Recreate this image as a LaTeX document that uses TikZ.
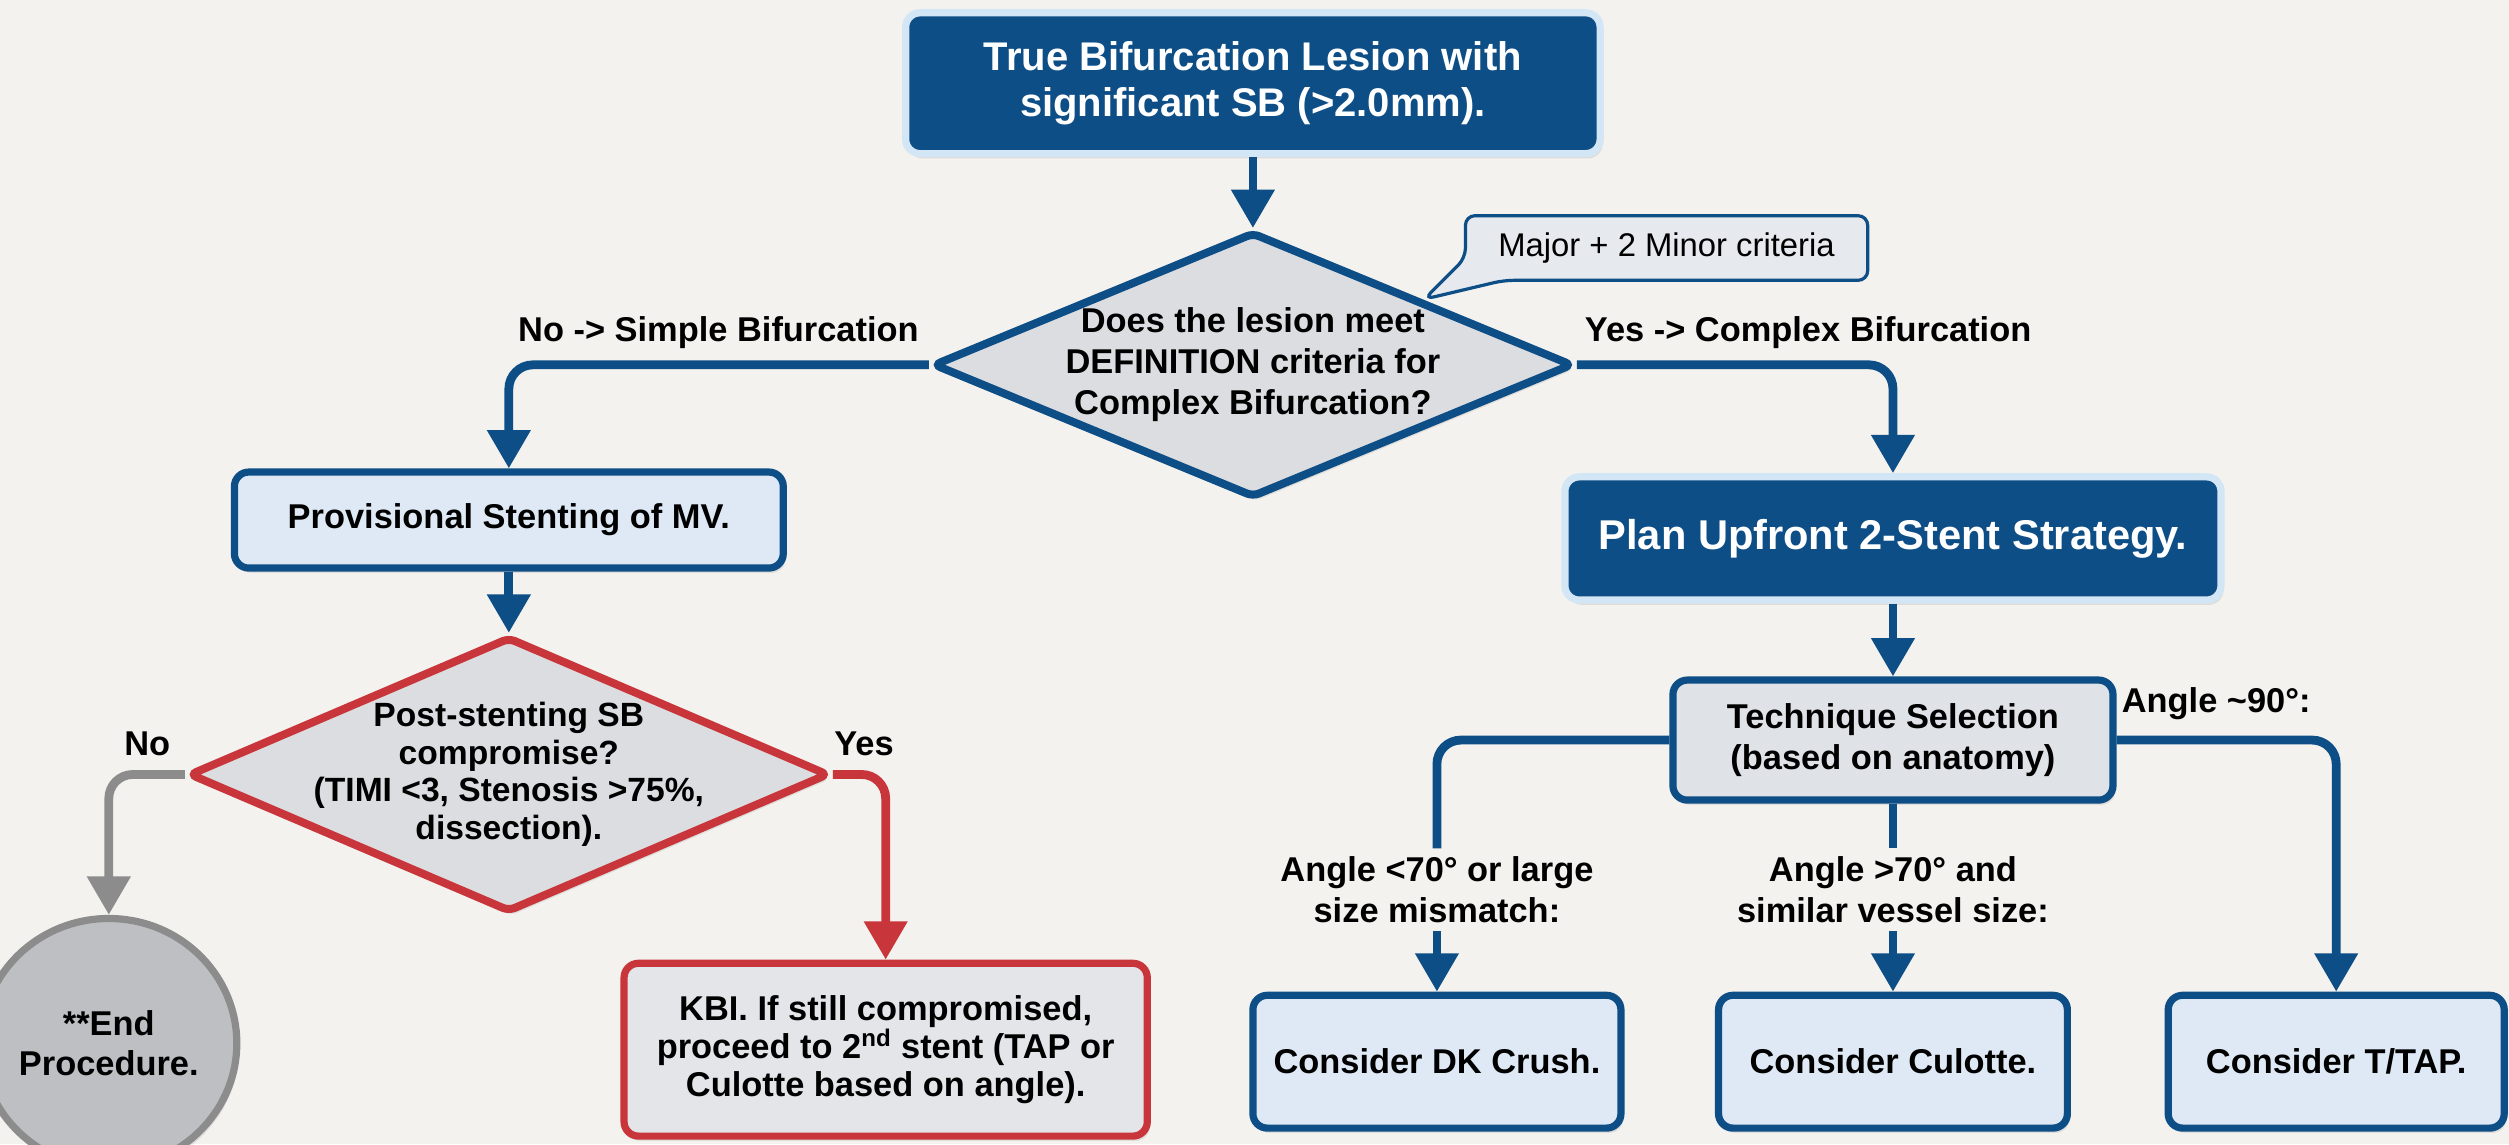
\documentclass[tikz,border=0pt]{standalone}
\usepackage{fontspec}
\setmainfont{Liberation Sans}
\usetikzlibrary{arrows.meta,shapes.geometric,shadows}
\definecolor{bg}{HTML}{F3F2EE}
\definecolor{dblue}{HTML}{0E4E86}
\definecolor{glow}{HTML}{D3E6F6}
\definecolor{lblue}{HTML}{DEE9F5}
\definecolor{dgray}{HTML}{DCDDE0}
\definecolor{tgray}{HTML}{DFE2E7}
\definecolor{kfill}{HTML}{E3E5E9}
\definecolor{cfill}{HTML}{E6E9EE}
\definecolor{rred}{HTML}{C8363B}
\definecolor{ggray}{HTML}{8C8C8C}
\definecolor{egray}{HTML}{BDBFC2}
\pgfdeclarelayer{bgl}
\pgfsetlayers{bgl,main}
\begin{document}
\begin{tikzpicture}[x=1pt,y=-1pt,
  every node/.style={font=\bfseries\fontsize{21.5}{25.5}\selectfont},
  shadowed/.style={drop shadow={shadow xshift=1.5pt,shadow yshift=-3pt,opacity=0.18}},
  darkbox/.style={rectangle, rounded corners=9pt, fill=dblue, draw=glow, line width=4.5pt, text=white, align=center, inner sep=0pt, shadowed},
  lightbox/.style={rectangle, rounded corners=9pt, fill=lblue, draw=dblue, line width=4.5pt, align=center, inner sep=0pt, shadowed},
  dia/.style={diamond, fill=dgray, line width=5pt, inner sep=0pt, rounded corners=4pt, shadowed},
  lbl/.style={align=center, inner sep=4pt},
  conn/.style={line width=5.5pt, draw=dblue, rounded corners=15pt},
  arr/.style={conn, -{Triangle[length=24pt,width=26pt]}}
]
\useasboundingbox (0,0) rectangle (1568,715);

% nodes
\node[darkbox, minimum width=434pt, minimum height=88pt, font=\bfseries\fontsize{25}{28.5}\selectfont] (top) at (783,52) {True Bifurcation Lesion with\\significant SB (>2.0mm).};
\node[dia, draw=dblue, minimum width=400pt, minimum height=166pt] (d1) at (783,228) {};
\node[align=center] (d1t) at (d1.center) {Does the lesion meet\\DEFINITION criteria for\\Complex Bifurcation?};
\node[inner sep=0pt, minimum width=251pt, minimum height=40pt, font=\mdseries\fontsize{20.5}{24}\selectfont] (call) at (1041.5,155) {Major + 2 Minor criteria};
\coordinate (tip) at (890,187);

\node[lightbox, minimum width=343pt, minimum height=60pt] (prov) at (318,325) {Provisional Stenting of MV.};
\node[darkbox, minimum width=410pt, minimum height=77pt, font=\bfseries\fontsize{26}{30}\selectfont] (plan) at (1183,336.5) {Plan Upfront 2-Stent Strategy.};

\node[dia, draw=rred, minimum width=400pt, minimum height=172pt] (d2) at (318,484) {};
\node[align=center, font=\bfseries\fontsize{21}{23.5}\selectfont] (d2t) at (d2.center) {Post-stenting SB\\compromise?\\(TIMI <3, Stenosis >75\%,\\dissection).};

\node[ellipse, minimum width=160pt, minimum height=156pt, fill=egray, draw=ggray, line width=4.5pt, align=center, inner sep=0pt, shadowed] (end) at (68,652) {**End\\Procedure.};
\node[rectangle, rounded corners=9pt, fill=kfill, draw=rred, line width=4.5pt, align=center, inner sep=0pt, shadowed, minimum width=327pt, minimum height=108pt, font=\bfseries\fontsize{21.5}{24}\selectfont] (kbi) at (553.5,656) {KBI. If still compromised,\\proceed to 2\textsuperscript{nd} stent (TAP or\\Culotte based on angle).};

\node[rectangle, rounded corners=9pt, fill=tgray, draw=dblue, line width=4.5pt, align=center, inner sep=0pt, shadowed, minimum width=275pt, minimum height=75pt] (tech) at (1183,462.5) {Technique Selection\\(based on anatomy)};

\node[lightbox, minimum width=230pt, minimum height=83pt] (dk) at (898,663.5) {Consider DK Crush.};
\node[lightbox, minimum width=218pt, minimum height=83pt] (cul) at (1183,663.5) {Consider Culotte.};
\node[lightbox, minimum width=210pt, minimum height=83pt] (tap) at (1460,663.5) {Consider T/TAP.};

% labels
\node[lbl] (lno) at (449,208) {No -> Simple Bifurcation};
\node[lbl] (lyes) at (1130,208) {Yes -> Complex Bifurcation};
\node[lbl] (no2) at (92,465) {No};
\node[lbl] (yes2) at (540,465) {Yes};
\node[lbl] (a90) at (1385,440) {Angle \textasciitilde 90°:};
\node[lbl, inner sep=5pt] (lblL) at (898,556) {Angle <70° or large\\size mismatch:};
\node[lbl, inner sep=5pt] (lblM) at (1183,556) {Angle >70° and\\similar vessel size:};

% background and callout
\begin{pgfonlayer}{bgl}
\fill[bg] (0,0) rectangle (1568,715);
\draw[draw=dblue, fill=cfill, line width=2pt, rounded corners=6pt]
  (call.north west) -- (call.north east) -- (call.south east)
  -- ([xshift=24pt]call.south west) -- (tip) -- ([yshift=14pt]call.south west) -- cycle;
\end{pgfonlayer}

% connectors
\draw[arr] (top.south) -- (d1.north);
\draw[arr] (d1.west) -| (prov.north);
\draw[arr] (d1.east) -| (plan.north);
\draw[arr] (prov.south) -- (d2.north);
\draw[arr, color=ggray] (d2.west) -| (end.north);
\draw[arr, color=rred] (d2.east) -| (kbi.north);
\draw[arr] (plan.south) -- (tech.north);
\draw[conn] (tech.west) -| (lblL.north);
\draw[arr] (lblL.south) -- (dk.north);
\draw[conn] (tech.south) -- (lblM.north);
\draw[arr] (lblM.south) -- (cul.north);
\draw[arr] (tech.east) -| (tap.north);
\end{tikzpicture}
\end{document}
